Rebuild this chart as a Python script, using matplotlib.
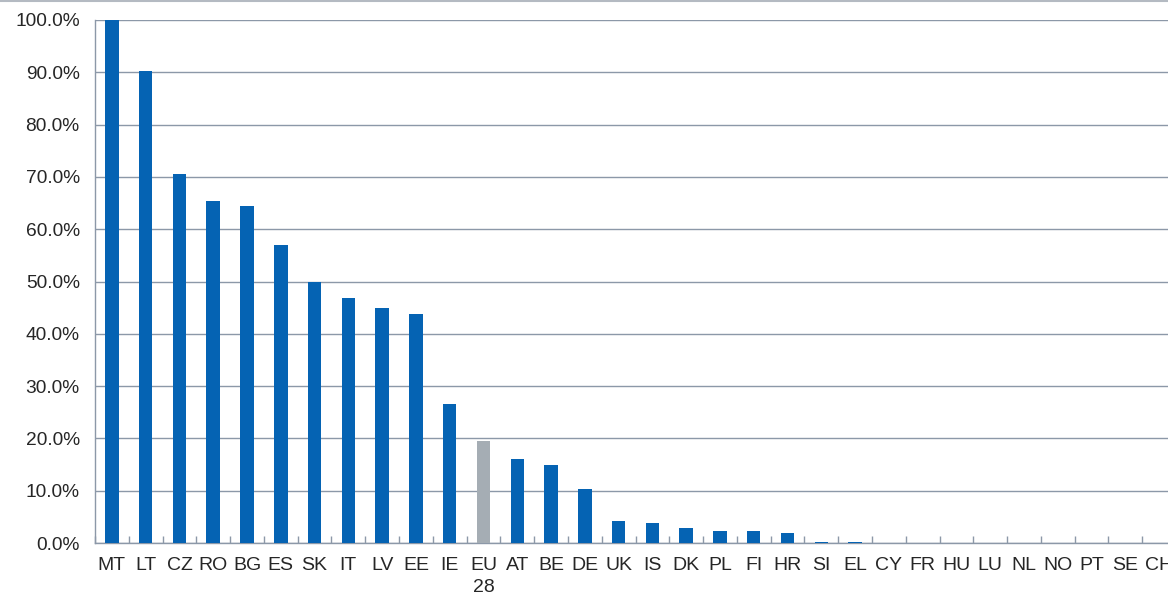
import matplotlib
matplotlib.use("Agg")
import matplotlib.pyplot as plt
from matplotlib.lines import Line2D
from matplotlib.ticker import FixedLocator, PercentFormatter

countries = ["MT", "LT", "CZ", "RO", "BG", "ES", "SK", "IT", "LV", "EE", "IE", "EU\n28",
             "AT", "BE", "DE", "UK", "IS", "DK", "PL", "FI", "HR", "SI", "EL", "CY",
             "FR", "HU", "LU", "NL", "NO", "PT", "SE", "CH"]
shares = [100.0, 90.2, 70.5, 65.4, 64.4, 57.0, 49.9, 46.8, 44.9, 43.8, 26.6, 19.5,
          16.1, 14.9, 10.3, 4.2, 3.9, 2.9, 2.2, 2.2, 1.9, 0.25, 0.2, 0.0,
          0.0, 0.0, 0.0, 0.0, 0.0, 0.0, 0.0, 0.0]

blue = "#0563B3"
grey = "#A5ADB4"
line_col = "#8C98A8"

plt.rcParams["font.family"] = ["Liberation Sans", "DejaVu Sans"]

W, H = 1168, 596
fig = plt.figure(figsize=(W / 100, H / 100), dpi=100)
left, right, bottom, top = 95, 1176, 53, 576
ax = fig.add_axes([left / W, bottom / H, (right - left) / W, (top - bottom) / H])

x = list(range(len(countries)))
colors = [grey if c.startswith("EU") else blue for c in countries]
ax.bar(x, shares, width=0.4, color=colors, zorder=3)

ax.set_xlim(-0.5, len(countries) - 0.5)
ax.set_ylim(0, 100)
ax.yaxis.set_major_locator(FixedLocator(range(0, 101, 10)))
ax.yaxis.set_major_formatter(PercentFormatter(decimals=1))
ax.grid(axis="y", color=line_col, linewidth=1.0, zorder=0)

ax.set_xticks(x)
ax.set_xticklabels(countries, linespacing=1.42)
ax.set_xticks([i + 0.5 for i in range(-1, len(countries))], minor=True)
ax.tick_params(axis="x", which="major", length=0, pad=10, labelsize=14, colors="#262626")
ax.tick_params(axis="x", which="minor", direction="in", length=5, color=line_col, width=1)
ax.tick_params(axis="y", length=0, pad=11, labelsize=13.8, colors="#262626")

for s in ["top", "right"]:
    ax.spines[s].set_visible(False)
for s in ["left", "bottom"]:
    ax.spines[s].set_color(line_col)
    ax.spines[s].set_linewidth(1.0)

# thin frame line along the top edge of the figure
fig.add_artist(Line2D([0, 1], [0.999, 0.999], transform=fig.transFigure,
                      color="#B4BAC2", linewidth=1.5))

fig.savefig("out.png", dpi=100)
